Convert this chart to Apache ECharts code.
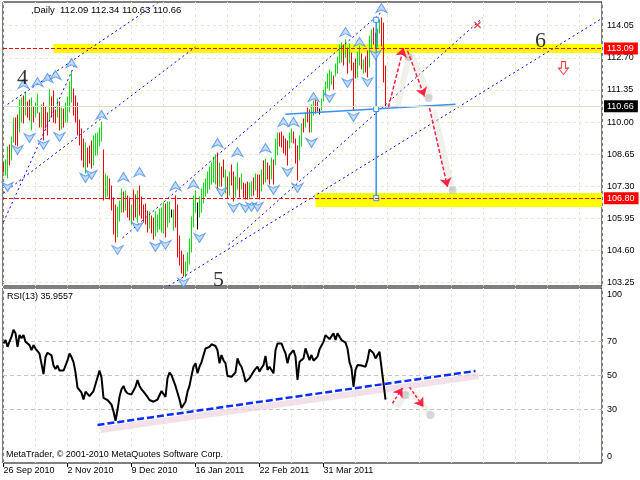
<!DOCTYPE html>
<html><head><meta charset="utf-8">
<script src="https://cdn.jsdelivr.net/npm/echarts@6/dist/echarts.min.js"></script>
<style>html,body{margin:0;padding:0;background:#fff}#c{width:640px;height:480px}</style>
</head><body><div id="c"></div>
<script>
const FONT = "'Liberation Sans', Arial, sans-serif";
const symbolName = ',Daily';
const lastOHLC = [112.09, 112.34, 110.63, 110.66];
const priceTicks = [103.25, 104.60, 105.95, 107.30, 108.65, 110.00, 111.35, 112.70, 114.05];
const rsiLabelValues = [0, 30, 50, 70, 100];
const rsiLevels = [30, 50, 70];
const dateTickIdx = [0, 32, 64, 96, 128, 160];
const dateLabels = ['26 Sep 2010', '2 Nov 2010', '9 Dec 2010', '16 Jan 2011', '22 Feb 2011', '31 Mar 2011'];

const lows = [107.90,107.78,107.65,108.20,108.41,109.16,109.04,109.00,109.58,110.00,
109.96,110.30,110.21,110.09,109.67,110.00,110.21,110.38,109.79,109.79,
109.25,109.75,109.46,110.10,110.21,110.00,109.96,110.20,109.65,109.70,
109.80,110.00,110.00,110.42,110.84,110.30,110.00,109.46,109.04,108.40,
108.10,107.86,108.10,108.30,108.05,108.20,108.60,108.62,109.00,109.20,
106.73,106.85,106.90,106.75,106.30,105.30,104.95,105.15,105.85,106.20,
106.20,106.30,106.00,105.90,105.70,105.89,106.00,105.80,106.10,105.95,
105.80,105.70,105.40,105.55,105.35,105.10,105.20,105.40,105.50,105.40,
105.35,105.15,105.59,105.80,106.00,105.47,105.60,104.35,104.00,103.65,
103.55,103.50,103.75,104.05,104.55,105.60,106.20,105.50,106.00,106.20,
106.60,106.90,107.00,107.20,107.40,107.50,107.40,107.15,107.30,107.30,
107.70,107.00,106.80,106.95,107.35,106.70,106.85,107.20,106.85,107.20,
106.85,106.75,106.75,106.85,106.90,106.95,107.15,106.85,106.75,107.10,
107.40,107.50,107.60,107.40,107.60,107.40,108.20,108.60,109.00,108.95,
108.70,108.60,108.20,108.90,109.15,109.10,108.30,107.55,108.40,109.00,
109.60,109.80,110.00,109.60,109.60,110.30,110.40,110.45,110.35,110.50,
110.90,111.15,111.45,111.35,111.60,111.40,111.95,112.05,112.50,112.52,
112.40,112.75,112.05,112.50,112.20,110.50,111.85,111.90,112.40,112.25,
112.05,112.10,111.90,112.30,113.10,113.30,113.10,113.15,113.75,113.20,
111.68,110.63];
const highs = [108.28,108.41,108.95,109.04,109.37,110.17,110.17,110.30,110.93,111.01,
111.10,111.25,110.84,110.93,111.01,110.63,110.80,111.20,110.38,110.72,
110.80,110.63,110.38,111.35,111.05,111.30,110.50,110.95,110.85,110.60,
110.55,110.80,111.05,111.68,112.10,111.40,111.10,110.80,110.09,109.70,
109.30,109.12,108.90,109.00,109.20,109.40,109.50,109.55,109.75,110.00,
108.83,107.80,107.75,107.60,107.30,106.80,106.50,106.45,106.70,107.20,
107.05,107.10,106.90,106.80,106.50,107.15,106.95,107.10,107.30,106.85,
106.50,106.55,106.25,106.20,106.05,105.95,106.20,106.10,106.35,106.40,
106.60,106.55,106.64,106.64,106.30,106.31,106.90,106.52,105.20,104.60,
104.40,104.10,104.50,105.10,106.00,106.90,107.10,106.60,106.85,107.20,
107.45,107.60,107.90,108.10,108.30,108.55,108.60,108.70,108.30,108.10,
108.40,108.00,107.70,107.90,108.20,107.90,107.70,108.30,107.65,107.80,
107.45,107.40,107.50,107.45,107.50,107.65,107.80,107.78,107.78,108.00,
108.35,108.45,108.30,108.15,108.50,108.40,109.30,109.54,109.54,109.60,
109.40,109.30,109.20,109.55,109.70,109.60,109.30,109.00,109.40,109.90,
110.15,110.40,110.60,110.50,110.70,110.90,111.00,110.85,110.55,110.95,
111.35,111.70,112.00,112.20,112.10,111.95,112.45,112.75,113.24,113.32,
113.24,113.45,113.10,113.30,112.90,112.50,112.65,112.95,113.20,112.85,
112.60,112.75,113.00,113.60,113.87,113.95,113.75,113.90,114.30,114.37,
114.15,112.34];
const dirs = ['d','u','u','d','u','u','d','d','u','u',
'd','u','d','d','u','d','u','u','d','u',
'd','d','d','u','d','d','d','u','d','u',
'd','u','u','u','u','d','d','d','d','d',
'd','u','d','d','d','u','u','u','u','u',
'd','u','u','d','d','d','d','u','u','u',
'd','u','d','d','u','d','d','u','d','d',
'd','d','d','u','d','d','u','u','u','u',
'u','d','u','u','n','u','d','d','d','d',
'd','u','u','u','u','u','u','n','u','u',
'u','u','u','u','u','u','u','d','u','d',
'd','u','d','u','d','d','u','u','d','u',
'd','d','d','u','u','d','u','d','d','u',
'd','u','d','d','u','d','u','u','d','d',
'd','d','d','u','u','d','d','d','u','u',
'd','u','d','d','u','u','d','d','n','u',
'u','u','u','u','u','d','u','u','u','u',
'd','u','d','u','d','d','d','u','u','d',
'u','d','d','u','u','d','d','u','u','d',
'd','d'];
const rsi = [69,71,67,70,73,77,75,67,74,72,
74,70,71,68,65,68,66,65,63,62,
51,61,63.5,63,62,56,54,56,53,54,
53,56,59,63,61,58,52,43,42,40,
36,40.6,39.6,38,38.5,41,45,49,53,49,
37,36.5,35.7,35,33,29,23.5,29.8,37.6,42,
44,41,39.6,39.5,39,38.6,43.5,47.5,44,42,
40.6,39.5,37.5,35.7,35.2,34.7,35.5,36,35.7,41,
40,37.5,48.5,51.8,50.4,49.8,44,40,36,31,
30.5,34.7,40.6,44,50,55.3,57.3,51.4,55.3,58,
62,66,67,67,68.5,69.4,67.5,65,57.3,62.2,
59,57.3,49.8,49.6,49.4,49.8,52,60.2,57,55.3,
51.4,46.5,46.5,48.5,50.4,52.4,54,55.3,52.4,54.5,
56.3,61.6,53.4,55.3,56.3,51.4,65,69,69.5,69,
66,63.2,57.3,62.2,63.2,65,61.2,47.5,58.2,59,
60.2,66.1,65,59.2,62.2,58.8,60,61.2,65.5,66.1,
70,73.9,72.9,71.5,72,74.9,71,74.9,75.9,71,
70,69.5,66,58,54.4,43.5,53.4,56.3,55.7,56,
56.3,55.3,59.2,65.5,66.1,63.2,60.2,59.6,64.1,63.2,
45.5,35.9557];

const fractalUp = [[10,111.60],[17,111.68],[22,111.85],[26,111.98],[34,112.48],[49,110.30],[60,107.69],[68,107.90],[86,107.31],[95,107.40],[107,109.12],[117,108.74],[131,108.91],[140,110.00],[145,110.00],[155,111.05],[171,113.79],[178,113.37],[189,114.79]];
const fractalDown = [[2,107.27],[7,108.83],[13,109.33],[20,109.04],[28,109.37],[41,107.65],[44,107.78],[57,104.62],[67,105.59],[76,104.75],[81,104.84],[90,103.24],[98,105.13],[109,107.06],[115,106.39],[121,106.39],[124,106.43],[127,106.43],[135,107.15],[142,107.90],[147,107.23],[154,109.12],[163,111.01],[172,111.64],[175,110.21],[182,111.68],[186,112.82]];

const channelLines = [
  [[0,110.63],[77,115.00]],
  [[0,107.02],[96,113.16]],
  [[0,105.80],[36,112.48]],
  [[59.5,105.13],[188.5,114.58]],
  [[112.5,104.84],[239.5,114.37]],
  [[82.5,103.11],[299.5,114.37]]
];
const trendMain = [[141,110.33],[226,110.75]];
const measurePts = [[186.35,114.30],[186.35,110.55],[186.35,106.80]];
const arrowsMain = [[[192.5,110.63],[200,113.11]],[[202,113.00],[210.5,111.07]],[[213,110.59],[222,107.27]]];
const shadowsMain = [[[197,110.63],[202.5,112.73]],[[203.5,112.94],[213.5,111.01]],[[215,110.51],[224.5,107.14]]];
const dotsMain = [[202.5,112.73],[212.5,111.01],[224.5,107.14]];
const arrowsRsi = [[[194.5,33.8],[199.5,42.8]],[[203,43.3],[210,31.6]]];
const shadowsRsi = [[[197,31.4],[202,41.4]],[[204.5,40.4],[212.5,28.6]]];
const dotsRsi = [[201,38.6],[213.5,26.9]];
const rsiTrend = [[47,21.0],[236,52.8]];
const rsiTrendShadow = [[48.5,18.1],[237.5,49.8]];
const redCross = [[237,114.08]];
const hollowDown = [[280,112.27]];
const waveLabels = [['4',9.5,111.85],['5',107.5,103.35],['6',268.5,113.41]];
const yellowBands = [[25,112.90,113.28],[156,106.43,107.02]];
const redLevels = [113.09, 106.80];
const bidLevel = 110.66;

const XMIN = -0.25, XMAX = 299.25;
const BAR_COLORS = { u: '#00e000', d: '#f00000', n: '#000000' };
const barData = lows.map((l, i) => [i, l, highs[i], i]);

const upPath = 'path://M6,0 L12,10 L6,7 L0,10 Z';
const downPath = 'path://M0,0 L6,3 L12,0 L6,10 Z';
const gridLineStyle = { color: '#e9e9d2', type: [3, 3], width: 1 };
const txt = { fontFamily: FONT, fontSize: 9, color: '#000' };
const fractalStyle = { color: '#b5d5fa', borderColor: '#4a90ea', borderWidth: 1 };

const option = {
  animation: false,
  backgroundColor: '#fff',
  title: [
    { text: symbolName + '  ' + lastOHLC.map(v => v.toFixed(2)).join(' '), left: 31, top: 5, padding: 0, textStyle: { fontWeight: 'normal', fontFamily: FONT, fontSize: 9.5, color: '#000' } },
    { text: 'RSI(13) ' + rsi[rsi.length - 1].toFixed(4), left: 7, top: 292, padding: 0, textStyle: Object.assign({ fontWeight: 'normal' }, txt) },
    { text: 'MetaTrader, \u00a9 2001-2010 MetaQuotes Software Corp.', left: 6, top: 450, padding: 0, textStyle: Object.assign({ fontWeight: 'normal' }, txt) }
  ],
  grid: [
    { left: 3, right: 38, top: 2, height: 284, show: true, borderColor: '#000', borderWidth: 1 },
    { left: 3, right: 38, top: 288, height: 175, show: true, borderColor: '#000', borderWidth: 1 }
  ],
  xAxis: [
    { gridIndex: 0, type: 'value', min: XMIN, max: XMAX, interval: 16, axisLine: { show: false }, axisTick: { show: false }, axisLabel: { show: false }, splitLine: { show: true, lineStyle: gridLineStyle } },
    { gridIndex: 1, type: 'value', min: XMIN, max: XMAX, interval: 16, axisLine: { show: false }, axisTick: { show: false }, axisLabel: { show: false }, splitLine: { show: true, lineStyle: gridLineStyle } },
    { gridIndex: 1, type: 'value', min: XMIN, max: XMAX, position: 'bottom', axisLine: { show: false },
      axisTick: { show: true, customValues: dateTickIdx, length: 4, lineStyle: { color: '#000' } },
      axisLabel: { customValues: dateTickIdx, formatter: v => dateLabels[Math.round(v / 32)] || '', align: 'left', margin: 3, fontFamily: FONT, fontSize: 9, color: '#000' },
      splitLine: { show: false } }
  ],
  yAxis: [
    { gridIndex: 0, type: 'value', position: 'right', min: 103.111, max: 115.046, axisLine: { show: false },
      axisTick: { show: false, customValues: priceTicks },
      axisLabel: { customValues: priceTicks, formatter: v => v.toFixed(2), margin: 5, fontFamily: FONT, fontSize: 9, color: '#000' },
      splitLine: { show: true, lineStyle: gridLineStyle } },
    { gridIndex: 1, type: 'value', position: 'right', min: -1.35, max: 101.6, axisLine: { show: false },
      axisTick: { show: false, customValues: rsiLevels },
      axisLabel: { customValues: rsiLabelValues, margin: 5, fontFamily: FONT, fontSize: 9, color: '#000',
        formatter: v => v === 0 ? '{b|0}' : v === 100 ? '{t|100}' : String(v),
        rich: { b: { padding: [0, 0, 9, 0], fontFamily: FONT, fontSize: 9, color: '#000' }, t: { padding: [7, 0, 0, 0], fontFamily: FONT, fontSize: 9, color: '#000' } } },
      splitLine: { show: true, lineStyle: { color: '#c4c4c4', type: [4, 3], width: 1 } } }
  ],
  series: [
    { type: 'custom', name: 'price', xAxisIndex: 0, yAxisIndex: 0, z: 3, silent: true,
      encode: { x: 0, y: [1, 2] }, data: barData,
      renderItem: (params, api) => {
        const i = api.value(3);
        const lo = api.coord([api.value(0), api.value(1)]);
        const hi = api.coord([api.value(0), api.value(2)]);
        const px = Math.floor(lo[0]) + 0.5;
        return { type: 'line', shape: { x1: px, y1: Math.round(lo[1]) + 0.5, x2: px, y2: Math.round(hi[1]) - 0.5 },
          style: { stroke: BAR_COLORS[dirs[i]], lineWidth: 1 } };
      },
      markArea: { silent: true, z: 1, itemStyle: { color: '#ffff00' },
        data: yellowBands.map(b => [{ xAxis: b[0], yAxis: b[1] }, { xAxis: XMAX, yAxis: b[2] }]) },
      markLine: { silent: true, symbol: ['none', 'none'], z: 6,
        data: redLevels.map(v => ({ yAxis: v, lineStyle: { color: '#ff0000', type: [4, 2], width: 1 },
            label: { show: true, position: 'end', distance: 2, formatter: p => p.value.toFixed(2), backgroundColor: '#ff0000', color: '#fff', padding: [2, 4, 1, 3], fontFamily: FONT, fontSize: 9 } }))
          .concat([{ yAxis: bidLevel, lineStyle: { color: '#ddddcc', type: 'solid', width: 1 },
            label: { show: true, position: 'end', distance: 2, formatter: p => p.value.toFixed(2), backgroundColor: '#000', color: '#fff', padding: [2, 4, 1, 3], fontFamily: FONT, fontSize: 9 } }]) } },
    { type: 'lines', coordinateSystem: 'cartesian2d', xAxisIndex: 0, yAxisIndex: 0, z: 4, silent: true,
      lineStyle: { color: '#0000ff', width: 1, type: [2, 3], opacity: 1 },
      data: channelLines.map(c => ({ coords: c })) },
    { type: 'lines', coordinateSystem: 'cartesian2d', xAxisIndex: 0, yAxisIndex: 0, z: 4, silent: true,
      lineStyle: { color: '#3a8ff2', width: 1.5, type: 'solid', opacity: 1 },
      data: [{ coords: trendMain }] },
    { type: 'line', xAxisIndex: 0, yAxisIndex: 0, z: 5, silent: true, symbol: 'rect', symbolSize: 5,
      itemStyle: { color: '#fff', borderColor: '#3a8ff2', borderWidth: 1 },
      lineStyle: { color: '#3a8ff2', width: 1.5 }, data: measurePts },
    { type: 'lines', coordinateSystem: 'cartesian2d', xAxisIndex: 0, yAxisIndex: 0, z: 5, silent: true,
      lineStyle: { color: 'rgba(225,225,212,0.45)', width: 6, opacity: 1 },
      data: shadowsMain.map(c => ({ coords: c })) },
    { type: 'scatter', xAxisIndex: 0, yAxisIndex: 0, z: 5, silent: true, symbolSize: 8,
      itemStyle: { color: 'rgba(170,170,170,0.6)' }, data: dotsMain },
    { type: 'lines', coordinateSystem: 'cartesian2d', xAxisIndex: 0, yAxisIndex: 0, z: 6, silent: true,
      symbol: ['none', 'arrow'], symbolSize: 9,
      lineStyle: { color: '#ff2244', width: 1.5, type: [4, 2], opacity: 1 },
      data: arrowsMain.map(c => ({ coords: c })) },
    { type: 'scatter', xAxisIndex: 0, yAxisIndex: 0, z: 7, silent: true, symbol: upPath, symbolSize: [11, 9],
      itemStyle: fractalStyle, data: fractalUp },
    { type: 'scatter', xAxisIndex: 0, yAxisIndex: 0, z: 7, silent: true, symbol: downPath, symbolSize: [11, 9],
      itemStyle: fractalStyle, data: fractalDown },
    { type: 'scatter', xAxisIndex: 0, yAxisIndex: 0, z: 7, silent: true,
      symbol: 'path://M0,1 L1,0 L4,3 L7,0 L8,1 L5,4 L8,7 L7,8 L4,5 L1,8 L0,7 L3,4 Z', symbolSize: 7,
      itemStyle: { color: '#ff0000' }, data: redCross },
    { type: 'scatter', xAxisIndex: 0, yAxisIndex: 0, z: 7, silent: true,
      symbol: 'path://M3,0 L7,0 L7,6 L10,6 L5,12 L0,6 L3,6 Z', symbolSize: [10, 13],
      itemStyle: { color: '#fff', borderColor: '#ff0000', borderWidth: 1 }, data: hollowDown },
    { type: 'scatter', xAxisIndex: 0, yAxisIndex: 0, z: 8, silent: true, symbolSize: 1,
      itemStyle: { color: 'transparent' },
      label: { show: true, position: 'inside', formatter: p => p.name, fontFamily: "'Liberation Serif', 'Times New Roman', serif", fontSize: 22, color: '#000' },
      data: waveLabels.map(w => ({ name: w[0], value: [w[1], w[2]] })) },
    // RSI panel
    { type: 'lines', coordinateSystem: 'cartesian2d', xAxisIndex: 1, yAxisIndex: 1, z: 2, silent: true,
      lineStyle: { color: 'rgba(236,212,224,0.7)', width: 6, opacity: 1 }, data: [{ coords: rsiTrendShadow }] },
    { type: 'line', xAxisIndex: 1, yAxisIndex: 1, z: 3, silent: true, symbol: 'none',
      lineStyle: { color: '#000', width: 2 }, data: rsi.map((v, i) => [i, v]) },
    { type: 'lines', coordinateSystem: 'cartesian2d', xAxisIndex: 1, yAxisIndex: 1, z: 4, silent: true,
      lineStyle: { color: '#0a2cff', width: 2.5, type: [7, 3], opacity: 1 }, data: [{ coords: rsiTrend }] },
    { type: 'lines', coordinateSystem: 'cartesian2d', xAxisIndex: 1, yAxisIndex: 1, z: 4, silent: true,
      lineStyle: { color: 'rgba(225,225,212,0.45)', width: 6, opacity: 1 }, data: shadowsRsi.map(c => ({ coords: c })) },
    { type: 'scatter', xAxisIndex: 1, yAxisIndex: 1, z: 4, silent: true, symbolSize: 8,
      itemStyle: { color: 'rgba(170,170,170,0.6)' }, data: dotsRsi },
    { type: 'lines', coordinateSystem: 'cartesian2d', xAxisIndex: 1, yAxisIndex: 1, z: 5, silent: true,
      symbol: ['none', 'arrow'], symbolSize: 9,
      lineStyle: { color: '#ff2244', width: 1.5, type: [3, 2], opacity: 1 }, data: arrowsRsi.map(c => ({ coords: c })) }
  ]
};
const chart = echarts.init(document.getElementById('c'), null, { renderer: 'canvas' });
chart.setOption(option);
</script>
</body></html>
